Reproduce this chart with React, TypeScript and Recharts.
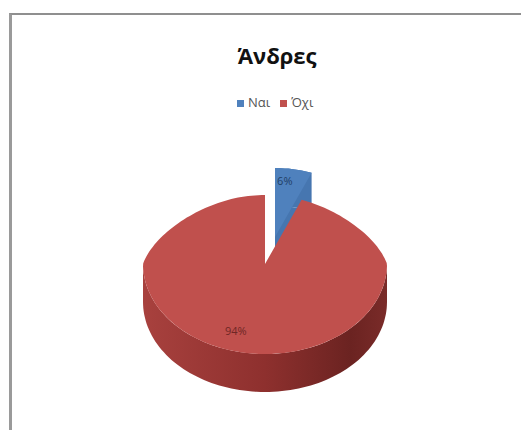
import { PieChart, Pie, Cell, Legend } from "recharts";

const categories = ["Ναι", "Όχι"];
const shares = [6, 94];
const colors = ["#4f81bd", "#c0504d"];

const data = categories.map((name, i) => ({ name, value: shares[i] }));

const DEPTH = 38;
const UP = 69 / 122;
const DOWN = 90 / 122;
const NARROW = 0.2;

// fake 3d: far half of the disc is flatter and narrower than the near half
const project = (cx: number, cy: number, r: number, deg: number) => {
  const a = (deg * Math.PI) / 180;
  const s = Math.sin(a);
  const c = Math.cos(a);
  const squeeze = s > 0 ? 1 - NARROW * s : 1;
  return [cx + r * c * squeeze, cy - r * s * (s > 0 ? UP : DOWN)];
};

const arcPoints = (cx: number, cy: number, r: number, from: number, to: number) => {
  const steps = Math.max(2, Math.ceil(Math.abs(to - from) / 2));
  const pts: number[][] = [];
  for (let i = 0; i <= steps; i++) {
    pts.push(project(cx, cy, r, from + ((to - from) * i) / steps));
  }
  return pts;
};

const toPath = (pts: number[][]) =>
  "M" + pts.map((p) => `${p[0].toFixed(1)},${p[1].toFixed(1)}`).join("L") + "Z";

const sliceOffset = (name: string) => (name === categories[0] ? [10, -27] : [0, 0]);

const Slice3D = (props: any) => {
  const { cx, cy, outerRadius, startAngle, endAngle, fill, name } = props;
  const [dx, dy] = sliceOffset(name);
  const x = cx + dx;
  const y = cy + dy;
  const top = [[x, y], ...arcPoints(x, y, outerRadius, startAngle, endAngle)];
  const isRed = name === categories[1];
  const front = arcPoints(x, y, outerRadius, 0, -180);
  const side = [...front, ...front.slice().reverse().map((p) => [p[0], p[1] + DEPTH])];
  const blueRim = top.map((p) => [p[0], p[1] + DEPTH]);
  const blueWall = [...top.slice(1), ...top.slice(1).reverse().map((p) => [p[0], p[1] + DEPTH])];
  return (
    <g>
      {isRed && <path d={toPath(side)} fill="url(#sideShade)" />}
      {!isRed && <path d={toPath(blueRim)} fill="#4676b0" />}
      {!isRed && <path d={toPath(blueWall)} fill="#4676b0" />}
      <path d={toPath(top)} fill={fill} />
    </g>
  );
};

const SliceLabel = (props: any) => {
  const { cx, cy, outerRadius, midAngle, name, value } = props;
  const [dx, dy] = sliceOffset(name);
  const [x, y] = project(cx + dx, cy + dy, outerRadius * 0.75, midAngle);
  const isRed = name === categories[1];
  return (
    <text
      x={isRed ? x - 12 : x - 4}
      y={isRed ? y + 2 : y - 4}
      textAnchor="middle"
      dominantBaseline="middle"
      fontFamily="Open Sans"
      fontSize={11}
      fill={isRed ? "#6f2725" : "#1f3f66"}
    >
      {value}%
    </text>
  );
};

const App = () => {
  return (
    <div style={{ position: "absolute", left: 0, top: 0, width: 521, height: 430, background: "#fff", overflow: "hidden" }}>
      <div
        style={{
          position: "absolute",
          left: 9,
          top: 13,
          width: 512,
          height: 417,
          boxSizing: "border-box",
          borderLeft: "3px solid #9a9a9a",
          borderTop: "2px solid #8f8f8f",
        }}
      />
      <PieChart
        width={521}
        height={430}
        margin={{ top: 0, right: 0, bottom: 0, left: 0 }}
        style={{ position: "absolute", left: 0, top: 0 }}
      >
        <defs>
          <linearGradient id="sideShade" x1="0" y1="0" x2="1" y2="0">
            <stop offset="0%" stopColor="#a8413e" />
            <stop offset="50%" stopColor="#8e302e" />
            <stop offset="85%" stopColor="#6b2321" />
            <stop offset="100%" stopColor="#7a2b29" />
          </linearGradient>
        </defs>
        <text
          x={277}
          y={64}
          textAnchor="middle"
          fontFamily="Open Sans"
          fontWeight={700}
          fontSize={22}
          fill="#111"
        >
          Άνδρες
        </text>
        <Pie
          data={data}
          dataKey="value"
          nameKey="name"
          cx={265}
          cy={246}
          outerRadius={122}
          startAngle={90}
          endAngle={-270}
          stroke="none"
          shape={Slice3D}
          label={SliceLabel}
          labelLine={false}
          isAnimationActive={false}
        >
          {data.map((entry, index) => (
            <Cell key={`cell-${index}`} fill={colors[index]} />
          ))}
        </Pie>
        <Legend
          layout="horizontal"
          align="left"
          verticalAlign="top"
          iconType="square"
          iconSize={7}
          itemSorter={null}
          wrapperStyle={{ position: "absolute", left: 237, top: 93, width: 100, fontFamily: "Open Sans", fontSize: 13 }}
          formatter={(value: string) => <span style={{ color: "#555" }}>{value}</span>}
        />
      </PieChart>
    </div>
  );
};

export default App;
